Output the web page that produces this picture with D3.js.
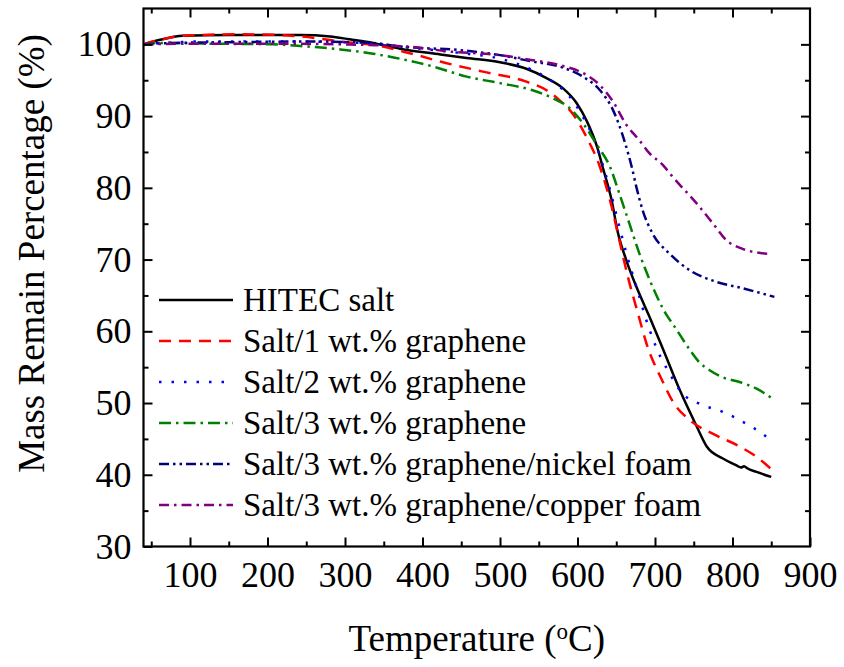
<!DOCTYPE html>
<html>
<head>
<meta charset="utf-8">
<script src="https://cdn.jsdelivr.net/npm/d3@7"></script>
<style>
  html, body { margin: 0; padding: 0; background: #fff; }
  svg { display: block; }
  text { font-family: "Liberation Serif", "Times New Roman", Times, serif; fill: #000; }
</style>
</head>
<body>
<svg id="chart" width="844" height="667"></svg>
<script>
// ---- data (Temperature °C, Mass remain %) ----
const hitec = [[40,100],[60,100.6],[91,101.2],[150,101.3],[200,101.3],[242,101.3],[281,101.1],[306,100.7],[336,100.2],[371,99.4],[423,98.6],[457,98.1],[500,97.5],[534,96.6],[560,95.3],[581,93.9],[599,91.8],[612,89.3],[625,85.8],[633,82.7],[644,78.3],[652,73.8],[663,69.9],[676,66.2],[693,62.0],[710,57.6],[732,51.8],[754,46.7],[767,43.9],[787,42.3],[805,41.3],[811,41.0],[815,41.2],[819,40.9],[831,40.4],[850,39.7]];
const salt1 = [[40,100],[60,100.6],[91,101.2],[165,101.4],[216,101.3],[268,100.8],[294,100.4],[349,99.7],[371,99.1],[393,98.5],[423,97.6],[478,96.2],[534,94.8],[560,93.6],[577,92.2],[594,90.3],[612,87.0],[629,82.9],[644,77.4],[654,72.7],[665,67.6],[678,62.5],[689,58.3],[709,53.2],[723,50.2],[745,47.6],[775,45.7],[810,43.9],[831,42.5],[852,40.6]];
const salt2 = [[40,100],[80,100.3],[122,100.4],[207,100.4],[294,100.3],[336,100.1],[371,99.7],[414,99.2],[457,98.7],[500,98.0],[542,96.4],[568,94.8],[590,92.7],[607,89.9],[620,87.1],[642,79.7],[654,74.6],[663,70.9],[676,66.2],[693,60.2],[703,57.4],[719,54.1],[734,51.5],[757,49.9],[787,48.8],[818,47.1],[839,45.7],[852,44.6]];
const salt3 = [[40,100],[62,100.2],[122,100.1],[207,100.0],[251,99.7],[294,99.3],[336,98.7],[371,98.0],[414,96.9],[457,95.5],[500,94.6],[542,93.6],[568,92.5],[590,91.1],[607,89.0],[625,86.0],[642,82.9],[654,79.2],[667,75.0],[680,70.8],[693,67.2],[710,63.2],[728,60.2],[745,57.4],[757,55.7],[770,54.6],[787,53.6],[810,52.9],[831,52.0],[852,50.6]];
const nickel = [[40,100],[80,100.2],[150,100.3],[250,100.4],[336,100.2],[371,99.7],[448,99.2],[500,98.5],[542,97.6],[577,96.9],[607,95.5],[629,93.6],[646,90.8],[661,86.4],[670,82.9],[676,80.1],[684,76.9],[697,73.6],[719,70.8],[745,68.5],[779,66.9],[813,66.0],[854,64.8]];
const copper = [[40,100],[100,100.1],[200,100.1],[294,100.0],[380,99.7],[435,99.0],[500,98.5],[542,97.8],[577,97.1],[612,95.7],[629,94.3],[646,92.0],[663,88.8],[680,86.6],[693,84.8],[710,83.2],[723,81.5],[754,77.8],[775,75.0],[792,72.7],[813,71.5],[846,70.8]];

const seriesNames = ["HITEC salt","Salt/1 wt.% graphene","Salt/2 wt.% graphene","Salt/3 wt.% graphene","Salt/3 wt.% graphene/nickel foam","Salt/3 wt.% graphene/copper foam"];
const seriesData = [hitec, salt1, salt2, salt3, nickel, copper];
const seriesColors = ["#000000","#ff0000","#0000ff","#008000","#000080","#800080"];
const seriesDash = [null, "12,8", "2.5,10", "12,5,2.5,5", "10,4,2.5,4,2.5,4", "10,5,2.5,5"];

const xMajor = [100,200,300,400,500,600,700,800,900];
const xMinor = [50,150,250,350,450,550,650,750,850];
const yMajor = [30,40,50,60,70,80,90,100];
const yMinor = [35,45,55,65,75,85,95];

// ---- layout ----
const svg = d3.select("#chart");
const L = 143.5, R = 810, T = 8.5, B = 546.5;
const x = d3.scaleLinear().domain([40, 900]).range([L, R]);
const y = d3.scaleLinear().domain([30, 105]).range([B, T]);

svg.append("defs").append("clipPath").attr("id","clip")
  .append("rect").attr("x",L).attr("y",T).attr("width",R-L).attr("height",B-T);

// curves
const line = d3.line().x(d => x(d[0])).y(d => y(d[1])).curve(d3.curveMonotoneX);
const g = svg.append("g").attr("clip-path","url(#clip)");
seriesData.forEach((s,i) => {
  g.append("path").datum(s)
    .attr("d", line)
    .attr("fill","none")
    .attr("stroke", seriesColors[i])
    .attr("stroke-width", 2.5)
    .attr("stroke-dasharray", seriesDash[i]);
});

// axes
function styleAxis(sel){
  sel.select(".domain").remove();
  sel.selectAll(".tick line").attr("stroke","#000").attr("stroke-width",2);
  sel.selectAll("text").style("font-size","36px").attr("fill","#000");
}
const fmt = d3.format("d");
svg.append("g").attr("transform",`translate(0,${B})`)
  .call(d3.axisBottom(x).tickValues(xMajor).tickSizeInner(-9).tickSizeOuter(0).tickPadding(15).tickFormat(fmt))
  .call(styleAxis);
svg.append("g").attr("transform",`translate(0,${B})`)
  .call(d3.axisBottom(x).tickValues(xMinor).tickSizeInner(-5).tickSizeOuter(0).tickFormat(""))
  .call(styleAxis);
svg.append("g").attr("transform",`translate(0,${T})`)
  .call(d3.axisTop(x).tickValues(xMajor.filter(v=>v<900)).tickSizeInner(-9).tickSizeOuter(0).tickFormat(""))
  .call(styleAxis);
svg.append("g").attr("transform",`translate(0,${T})`)
  .call(d3.axisTop(x).tickValues(xMinor).tickSizeInner(-5).tickSizeOuter(0).tickFormat(""))
  .call(styleAxis);
svg.append("g").attr("transform",`translate(${L},0)`)
  .call(d3.axisLeft(y).tickValues(yMajor).tickSizeInner(-9).tickSizeOuter(0).tickPadding(12).tickFormat(fmt))
  .call(styleAxis);
svg.append("g").attr("transform",`translate(${L},0)`)
  .call(d3.axisLeft(y).tickValues(yMinor).tickSizeInner(-5).tickSizeOuter(0).tickFormat(""))
  .call(styleAxis);
svg.append("g").attr("transform",`translate(${R},0)`)
  .call(d3.axisRight(y).tickValues(yMajor.filter(v=>v>30)).tickSizeInner(-9).tickSizeOuter(0).tickFormat(""))
  .call(styleAxis);
svg.append("g").attr("transform",`translate(${R},0)`)
  .call(d3.axisRight(y).tickValues(yMinor).tickSizeInner(-5).tickSizeOuter(0).tickFormat(""))
  .call(styleAxis);

// frame
svg.append("rect").attr("x",L).attr("y",T).attr("width",R-L).attr("height",B-T)
  .attr("fill","none").attr("stroke","#000").attr("stroke-width",2.2);

// axis titles
const xt = svg.append("text").attr("x",(L+R)/2).attr("y",651).attr("text-anchor","middle").style("font-size","37px");
xt.append("tspan").text("Temperature (");
xt.append("tspan").attr("baseline-shift","super").style("font-size","23px").text("o");
xt.append("tspan").text("C)");

svg.append("text").attr("transform",`translate(44,${(T+B)/2 - 24}) rotate(-90)`)
  .attr("text-anchor","middle").style("font-size","37px").text("Mass Remain Percentage (%)");

// legend
const legRow0 = 300, legStep = 41;
seriesNames.forEach((name,i) => {
  const yy = legRow0 + i*legStep;
  svg.append("line").attr("x1",159).attr("x2",233).attr("y1",yy).attr("y2",yy)
    .attr("stroke",seriesColors[i]).attr("stroke-width",2.5)
    .attr("stroke-dasharray", seriesDash[i]);
  svg.append("text").attr("x",243).attr("y",yy+11).style("font-size","33px").text(name);
});
</script>
</body>
</html>
